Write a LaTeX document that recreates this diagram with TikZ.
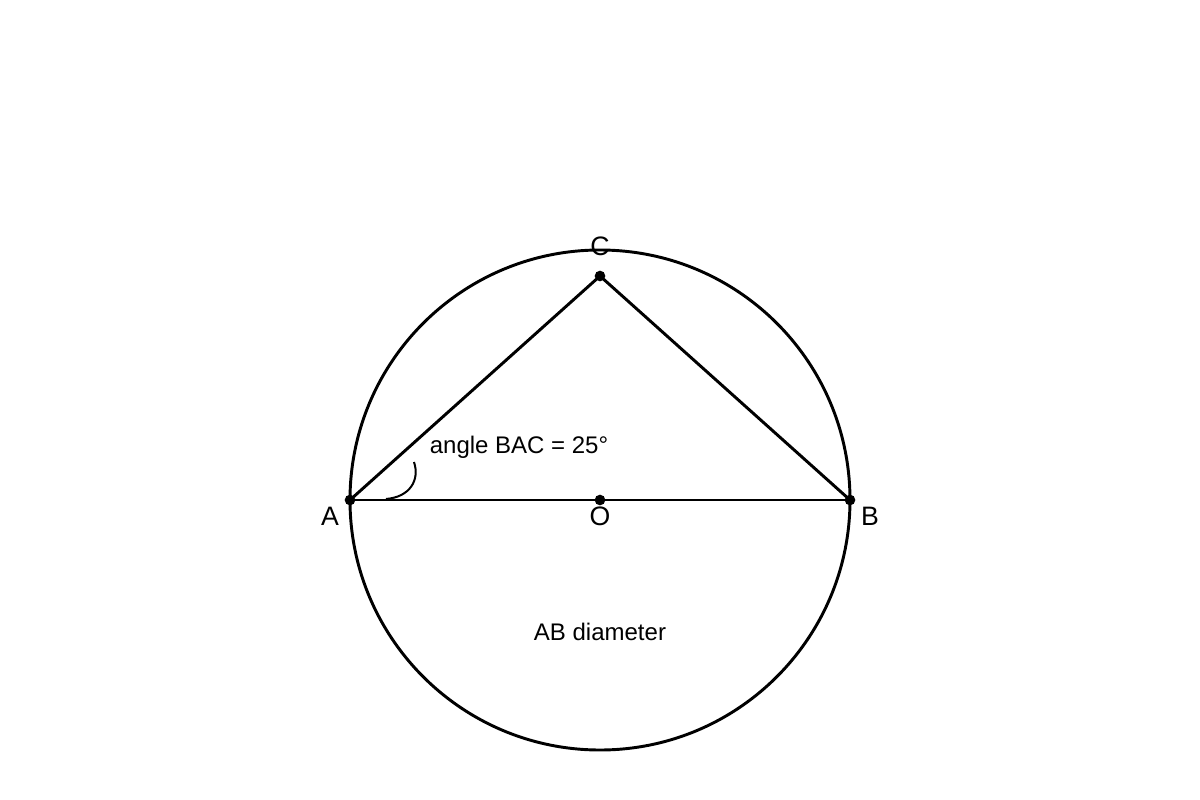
\documentclass[tikz,border=0pt]{standalone}
\usepackage{fontspec}
\setmainfont{Liberation Sans}
\tikzset{every picture/.style={line width=2.2pt}}
\tikzset{
  ptdot/.style={circle,fill=black,inner sep=0pt,minimum size=8pt},
  ptlabel/.style={inner sep=0.75pt,font=\fontsize{20}{24}\selectfont},
  txtlabel/.style={inner sep=0.75pt,font=\fontsize{18}{22}\selectfont}
}
\begin{document}
\begin{tikzpicture}[x=0.75pt,y=0.75pt,yscale=-1,xscale=1]
		\useasboundingbox (0,0) rectangle (1200,800);
		
		%Points
		\node [ptdot] (O) at (600,500) {};
		\node [ptdot] (A) at (350,500) {};
		\node [ptdot] (B) at (850,500) {};
		\node [ptdot] (C) at (600,276) {};
		\coordinate (arcS) at (386,499);
		\coordinate (arcE) at (414,462);
		
		%Shape: Circle
		\draw   (O.center) circle [radius=250] ;
		%Triangle
		\draw    (A.center) -- (B.center) ;
		\draw    (A.center) -- (C.center) ;
		\draw    (C.center) -- (B.center) ;
		%Angle mark
		\draw [line width=1.5pt]   (arcS) .. controls (410,497) and (420,480) .. (arcE) ;
		
		\node [ptlabel] (lC) at (600,246) {C};
		\node [ptlabel] (lA) at (330,516) {A};
		\node [ptlabel] (lO) at (600,516) {O};
		\node [ptlabel] (lB) at (870,516) {B};
		\node [txtlabel] (lang) at (519,447) {angle BAC = 25°};
		\node [txtlabel] (ldiam) at (600,632) {AB diameter};
		
\end{tikzpicture}
\end{document}
